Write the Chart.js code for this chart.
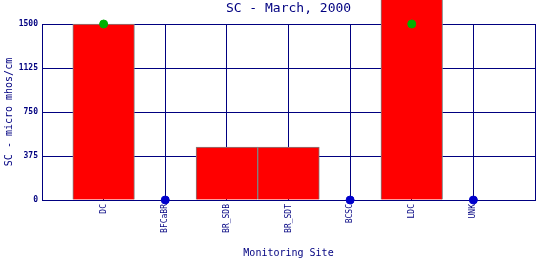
<!DOCTYPE html>
<html><head><meta charset="utf-8">
<script src="https://cdn.jsdelivr.net/npm/chart.js@4"></script>
<style>html,body{margin:0;padding:0;background:#fff}#w{width:540px;height:260px}</style>
</head><body><div id="w"><canvas id="c" width="540" height="260"></canvas></div>
<script>
const categories = ['DC','BFCaBR','BR_SDB','BR_SDT','BCSC','LDC','UNK'];
const barValues = [1500, null, 450, 450, null, 1800, null];
const greenValues = [1500, null, null, null, null, 1500, null];
const blueValues = [null, 0, null, null, 0, null, 0];
const yTicks = [0, 375, 750, 1125, 1500];

const NAVY = '#000080';
const MONO = '"DejaVu Sans Mono", "Liberation Mono", monospace';
const toPts = arr => arr.map((v, i) => ({x: i, y: v}));

new Chart(document.getElementById('c'), {
  data: {
    datasets: [
      {type: 'scatter', data: toPts(greenValues), backgroundColor: '#00b000', borderColor: '#00b000',
       pointRadius: 4, pointHoverRadius: 4, clip: false, order: 0},
      {type: 'scatter', data: toPts(blueValues), backgroundColor: '#0000cc', borderColor: '#0000cc',
       pointRadius: 4, pointHoverRadius: 4, clip: false, order: 0},
      {type: 'bar', data: toPts(barValues), backgroundColor: '#ff0000', borderColor: '#808080',
       borderWidth: 1, barPercentage: 1, categoryPercentage: 1, clip: false, order: 1}
    ]
  },
  options: {
    responsive: false, animation: false, devicePixelRatio: 1,
    layout: {padding: {left: 0, right: 4, top: 0, bottom: 0}},
    plugins: {
      legend: {display: false}, tooltip: {enabled: false},
      title: {display: true, fullSize: false, text: 'SC - March, 2000', color: NAVY,
        font: {family: MONO, size: 13, weight: 'normal'}, padding: {top: 1, bottom: 7.4}}
    },
    scales: {
      x: {type: 'linear', min: -1, max: 7, offset: false,
        afterFit: s => { s.height = 60; s.paddingLeft = 0; s.paddingRight = 0; },
        afterBuildTicks: s => { s.ticks = [-1,0,1,2,3,4,5,6,7].map(v => ({value: v})); },
        ticks: {autoSkip: false, minRotation: 90, maxRotation: 90, color: NAVY, padding: 4,
          font: {family: MONO, size: 8},
          callback: v => (Number.isInteger(v) && v >= 0 && v < categories.length) ? categories[v] : ''},
        grid: {color: NAVY, lineWidth: 1, drawTicks: false, offset: false},
        border: {color: NAVY, width: 1},
        title: {display: true, text: 'Monitoring Site', color: NAVY,
          font: {family: MONO, size: 10}, padding: {top: 0, bottom: 1}}
      },
      y: {min: 0, max: 1500,
        afterFit: s => { s.width = 42; s.paddingTop = 0; s.paddingBottom = 0; },
        afterBuildTicks: s => { s.ticks = yTicks.map(v => ({value: v})); },
        ticks: {color: NAVY, padding: 4, font: {family: MONO, size: 8, weight: 'bold'},
          callback: v => String(v)},
        grid: {color: NAVY, lineWidth: 1, drawTicks: false},
        border: {color: NAVY, width: 1},
        title: {display: true, text: 'SC - micro mhos/cm', color: NAVY,
          font: {family: MONO, size: 10}, padding: {top: 3, bottom: 0}}
      }
    }
  }
});
</script></body></html>
